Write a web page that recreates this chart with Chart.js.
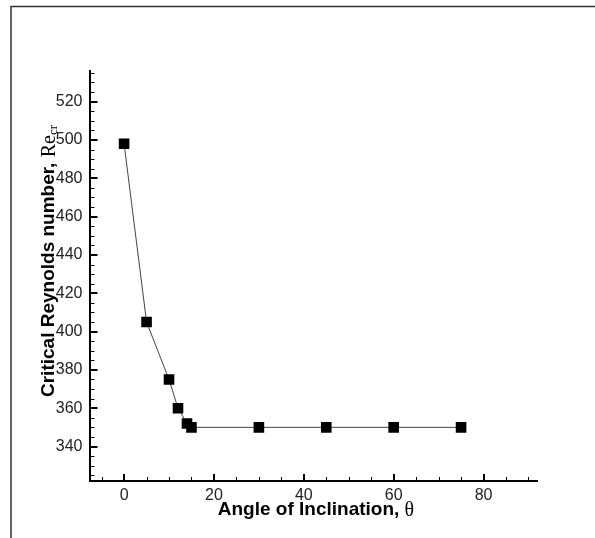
<!DOCTYPE html>
<html><head><meta charset="utf-8">
<script src="https://cdn.jsdelivr.net/npm/chart.js@4/dist/chart.umd.min.js"></script>
<style>html,body{margin:0;padding:0;background:#fff}#wrap{position:relative;width:595px;height:538px}canvas{display:block}</style>
</head><body><div id="wrap"><canvas id="c" width="595" height="538"></canvas></div>
<script>
// ---- data ----
const angles = [0, 5, 10, 12, 14, 15, 30, 45, 60, 75];
const reCritical = [498, 405, 375, 360, 352, 350, 350, 350, 350, 350];
const xTickValues = [0, 20, 40, 60, 80];
const yTickValues = [340, 360, 380, 400, 420, 440, 460, 480, 500, 520];
const xTitleMain = 'Angle of Inclination, ';
const xTitleSymbol = 'θ';
const yTitleMain = 'Critical Reynolds number, ';
const yTitleSymbol = 'Re';
const yTitleSub = 'cr';

const SANS = '"Liberation Sans", Arial, sans-serif';
const SERIF = '"Liberation Serif", "Times New Roman", serif';

const decor = {
  id: 'decor',
  beforeDraw(chart) {
    const ctx = chart.ctx;
    ctx.save();
    ctx.fillStyle = '#fff';
    ctx.fillRect(0, 0, chart.width, chart.height);
    ctx.strokeStyle = '#333';
    ctx.lineWidth = 1.5;
    ctx.beginPath();
    ctx.moveTo(11, 538); ctx.lineTo(11, 6.5); ctx.lineTo(595, 6.5);
    ctx.stroke();
    ctx.restore();
  },
  afterDraw(chart) {
    const ctx = chart.ctx;
    const xs = chart.scales.x, ys = chart.scales.y;
    const ca = chart.chartArea;
    ctx.save();
    ctx.strokeStyle = '#000';
    // x ticks (inward)
    for (let v = -5; v <= 90; v += 5) {
      const px = Math.round(xs.getPixelForValue(v));
      const major = v % 20 === 0;
      ctx.lineWidth = major ? 2 : 1;
      const len = major ? 7 : 4;
      ctx.beginPath();
      ctx.moveTo(px + (major ? 0 : 0.5), ca.bottom);
      ctx.lineTo(px + (major ? 0 : 0.5), ca.bottom - len);
      ctx.stroke();
    }
    // y ticks (inward)
    for (let v = 325; v <= 535; v += 5) {
      const py = Math.round(ys.getPixelForValue(v));
      const major = v % 20 === 0;
      ctx.lineWidth = major ? 2 : 1;
      const len = major ? 8 : 5;
      ctx.beginPath();
      ctx.moveTo(ca.left, py + (major ? 0 : 0.5));
      ctx.lineTo(ca.left + len, py + (major ? 0 : 0.5));
      ctx.stroke();
    }
    // x title
    ctx.fillStyle = '#000';
    ctx.textBaseline = 'middle';
    ctx.font = 'bold 19px ' + SANS;
    const w1 = ctx.measureText(xTitleMain).width;
    ctx.font = '20px ' + SERIF;
    const w2 = ctx.measureText(xTitleSymbol).width;
    let x0 = 316 - (w1 + w2) / 2;
    ctx.font = 'bold 19px ' + SANS;
    ctx.textAlign = 'left';
    ctx.fillText(xTitleMain, x0, 510);
    ctx.font = '20px ' + SERIF;
    ctx.fillText(xTitleSymbol, x0 + w1, 511);
    // y title
    ctx.translate(49, 261);
    ctx.rotate(-Math.PI / 2);
    ctx.font = 'bold 19px ' + SANS;
    const a1 = ctx.measureText(yTitleMain).width;
    ctx.font = '20px ' + SERIF;
    const a2 = ctx.measureText(yTitleSymbol).width;
    ctx.font = '13px ' + SERIF;
    const a3 = ctx.measureText(yTitleSub).width;
    let s = -(a1 + a2 + a3) / 2;
    ctx.font = 'bold 19px ' + SANS;
    ctx.fillText(yTitleMain, s, 0);
    ctx.font = '20px ' + SERIF;
    ctx.fillText(yTitleSymbol, s + a1, 1);
    ctx.font = '13px ' + SERIF;
    ctx.fillText(yTitleSub, s + a1 + a2, 5);
    ctx.restore();
  }
};

new Chart(document.getElementById('c'), {
  type: 'scatter',
  data: {
    datasets: [{
      data: angles.map((a, i) => ({ x: a, y: reCritical[i] })),
      showLine: true,
      borderColor: '#444',
      borderWidth: 1,
      pointStyle: 'rect',
      pointRadius: 7.5,
      pointBorderWidth: 0,
      pointBackgroundColor: '#000',
      pointBorderColor: '#000'
    }]
  },
  options: {
    responsive: false,
    animation: false,
    devicePixelRatio: 1,
    layout: { padding: { left: 0, right: 58, top: 71, bottom: 0 } },
    plugins: { legend: { display: false }, tooltip: { enabled: false } },
    scales: {
      x: {
        type: 'linear', min: -7.7, max: 91.9,
        afterBuildTicks: s => { s.ticks = xTickValues.map(v => ({ value: v })); },
        afterFit: s => { s.height = 57; },
        grid: { display: false, drawTicks: false },
        border: { display: true, color: '#000', width: 2 },
        ticks: { padding: 5, color: '#222', font: { family: SANS, size: 16 }, maxRotation: 0 }
      },
      y: {
        type: 'linear', min: 322, max: 536,
        afterBuildTicks: s => { s.ticks = yTickValues.map(v => ({ value: v })); },
        afterFit: s => { s.width = 89.5; },
        grid: { display: false, drawTicks: false },
        border: { display: true, color: '#000', width: 2 },
        ticks: { padding: 7, color: '#222', font: { family: SANS, size: 16 } }
      }
    }
  },
  plugins: [decor]
});
</script>
</body></html>
